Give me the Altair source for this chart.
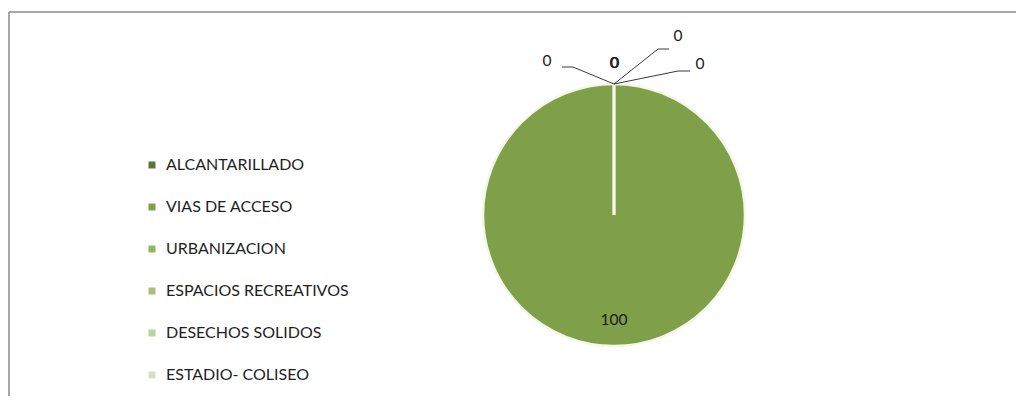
import math
import altair as alt
import pandas as pd

# ---- data ----
CATEGORIES = ["ALCANTARILLADO", "VIAS DE ACCESO", "URBANIZACION",
              "ESPACIOS RECREATIVOS", "DESECHOS SOLIDOS", "ESTADIO- COLISEO"]
VALUES = [0, 100, 0, 0, 0, 0]
COLORS = ["#5a7531", "#7f9f48", "#94b35e", "#a6c07a", "#bfd29d", "#d6e2c2"]

# ---- layout (plot-area pixels) ----
W, H = 1008, 388
CX, CY, R = 606, 207, 131
# offsets of the zero-value labels from their slice anchor (Excel best-fit placement)
LABEL_OFFSET = [(-67, -23), None, (0, -21), (1, -21), (64, -48), (86, -20)]
LEADER_OFFSET = [[(-41, -17), (-52, -17)], None, [], [], [(44, -35), (55, -35)], [(64, -13), (76, -13)]]
FONT = "Lato"

total = sum(VALUES)
pie_df = pd.DataFrame({"cat": CATEGORIES, "value": VALUES, "idx": range(len(VALUES))})

lab_rows, line_rows = [], []
cum = 0.0
for i, (c, v) in enumerate(zip(CATEGORIES, VALUES)):
    mid = (cum + v / 2) / total * 2 * math.pi
    cum += v
    if v > 0:
        rr = 0.8 * R
        lx, ly = CX + rr * math.sin(mid), CY - rr * math.cos(mid)
    else:
        ax, ay = CX + R * math.sin(mid), CY - R * math.cos(mid)
        dx, dy = LABEL_OFFSET[i]
        lx, ly = ax + dx, ay + dy
        pts = LEADER_OFFSET[i]
        if pts:
            line_rows.append({"cat": c, "o": 0, "x": ax, "y": ay})
            for k, (ex, ey) in enumerate(pts):
                line_rows.append({"cat": c, "o": k + 1, "x": ax + ex, "y": ay + ey})
    lab_rows.append({"cat": c, "text": str(v), "x": lx, "y": ly})

lab_df = pd.DataFrame(lab_rows)
line_df = pd.DataFrame(line_rows)

color_scale = alt.Scale(domain=CATEGORIES, range=COLORS)

pie = alt.Chart(pie_df).mark_arc(
    outerRadius=R, stroke="#f4f8ea", strokeWidth=2.5
).encode(
    theta=alt.Theta("value:Q", stack=True),
    order=alt.Order("idx:Q"),
    color=alt.Color("cat:N", scale=color_scale, sort=CATEGORIES, legend=alt.Legend(
        title=None, orient="none", legendX=136, legendY=149, symbolType="square",
        symbolSize=49, symbolStrokeWidth=0, labelFont=FONT, labelFontSize=16,
        labelColor="#1f1f1f", rowPadding=26, labelOffset=6, padding=0,
        labelLimit=400)),
    x=alt.value(CX), y=alt.value(CY),
)

leaders = alt.Chart(line_df).mark_line(color="#3a3a3a", strokeWidth=1).encode(
    x=alt.X("x:Q", scale=None), y=alt.Y("y:Q", scale=None),
    detail="cat:N", order="o:Q",
)

labels = alt.Chart(lab_df).mark_text(
    font=FONT, fontSize=15.5, color="#1a1a1a", align="center", baseline="middle"
).encode(
    x=alt.X("x:Q", scale=None), y=alt.Y("y:Q", scale=None), text="text:N",
)

frame_top = alt.Chart(pd.DataFrame({"a": [0]})).mark_rule(color="#a6a6a6", strokeWidth=2).encode(
    x=alt.value(1), x2=alt.value(W), y=alt.value(4))
frame_left = alt.Chart(pd.DataFrame({"a": [0]})).mark_rule(color="#a6a6a6", strokeWidth=2).encode(
    x=alt.value(1), y=alt.value(4), y2=alt.value(H))

chart = alt.layer(frame_top, frame_left, pie, leaders, labels).properties(
    width=W, height=H, autosize=alt.AutoSizeParams(type="none"), padding=0,
    background="white",
).configure_view(stroke=None)

chart.save("out.html", embed_options={"renderer": "svg", "actions": False})
